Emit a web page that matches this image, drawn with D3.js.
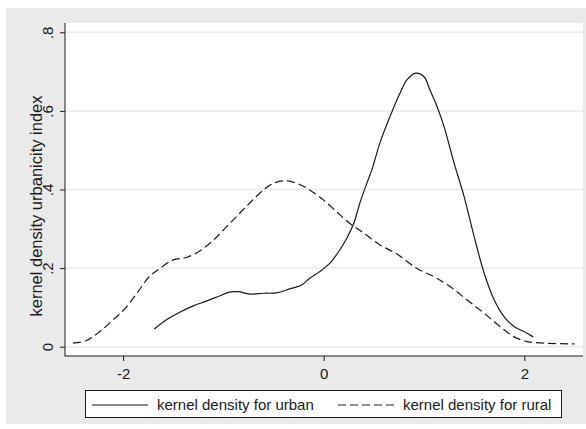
<!DOCTYPE html>
<html>
<head>
<meta charset="utf-8">
<script src="https://cdn.jsdelivr.net/npm/d3@7"></script>
<style>
  html, body { margin: 0; padding: 0; background: #ffffff; }
  svg { display: block; }
  text { font-family: "Liberation Sans", Arial, sans-serif; fill: #1a1a1a; }
</style>
</head>
<body>
<svg id="chart" width="586" height="429"></svg>
<script>
// Kernel density estimates of the urbanicity index, urban vs rural
const urbanX = [-1.69, -1.57, -1.44, -1.30, -1.17, -1.04, -0.94, -0.85, -0.74, -0.60, -0.47, -0.34, -0.22, -0.14, -0.04, 0.06, 0.16, 0.23, 0.30, 0.36, 0.43, 0.48, 0.56, 0.66, 0.76, 0.83, 0.92, 1.00, 1.06, 1.13, 1.20, 1.30, 1.40, 1.50, 1.60, 1.70, 1.80, 1.90, 2.00, 2.09];
const urbanY = [0.045, 0.068, 0.087, 0.104, 0.116, 0.129, 0.139, 0.140, 0.134, 0.136, 0.137, 0.147, 0.157, 0.174, 0.191, 0.212, 0.246, 0.276, 0.314, 0.365, 0.416, 0.450, 0.518, 0.585, 0.645, 0.679, 0.696, 0.687, 0.653, 0.611, 0.560, 0.467, 0.382, 0.280, 0.187, 0.119, 0.076, 0.051, 0.038, 0.025];

const ruralX = [-2.50, -2.37, -2.24, -2.10, -1.97, -1.84, -1.74, -1.64, -1.50, -1.37, -1.24, -1.10, -0.97, -0.84, -0.74, -0.60, -0.50, -0.39, -0.27, -0.14, 0.00, 0.13, 0.26, 0.40, 0.56, 0.73, 0.93, 1.10, 1.26, 1.43, 1.60, 1.76, 1.90, 2.03, 2.20, 2.50];
const ruralY = [0.009, 0.015, 0.037, 0.068, 0.100, 0.144, 0.178, 0.198, 0.221, 0.227, 0.243, 0.271, 0.305, 0.339, 0.365, 0.399, 0.416, 0.422, 0.416, 0.399, 0.373, 0.343, 0.314, 0.289, 0.259, 0.236, 0.199, 0.178, 0.153, 0.119, 0.085, 0.051, 0.025, 0.013, 0.009, 0.007];

const xTicks = [-2, 0, 2];
const xTickLabels = ["-2", "0", "2"];
const yTicks = [0, 0.2, 0.4, 0.6, 0.8];
const yTickLabels = ["0", ".2", ".4", ".6", ".8"];

const yTitle = "kernel density urbanicity index";
const seriesNames = ["kernel density for urban", "kernel density for rural"];

const svg = d3.select("#chart");
const W = 586;
const ink = "#1a1a1a";

// outer graph region
svg.append("rect").attr("x", 6).attr("y", 8).attr("width", W - 6).attr("height", 416)
  .attr("fill", "#eaeaea");

const plot = { left: 65, right: 583, top: 23, bottom: 356 };
svg.append("rect")
  .attr("x", plot.left).attr("y", plot.top)
  .attr("width", plot.right - plot.left).attr("height", plot.bottom - plot.top)
  .attr("fill", "#ffffff");

const x = d3.scaleLinear().domain([0, 2]).range([323.7, 524.3]);
const y = d3.scaleLinear().domain([0, 0.8]).range([346.7, 32.3]);

// horizontal grid lines
svg.append("g").selectAll("line").data(yTicks).join("line")
  .attr("x1", plot.left).attr("x2", plot.right)
  .attr("y1", d => y(d)).attr("y2", d => y(d))
  .attr("stroke", "#eaeaea").attr("stroke-width", 1.5);

// y axis
const yAxis = d3.axisLeft(y).tickValues(yTicks).tickFormat((d, i) => yTickLabels[i])
  .tickSize(5).tickSizeOuter(0);
const gy = svg.append("g").attr("transform", `translate(${plot.left},0)`).call(yAxis);
gy.select(".domain").remove();
gy.selectAll(".tick line").attr("stroke", ink);
gy.selectAll(".tick text")
  .attr("font-size", 15)
  .attr("text-anchor", "middle")
  .attr("x", null).attr("dy", null).attr("y", 0)
  .attr("transform", "translate(-12,0) rotate(-90)")
  .attr("fill", ink);
svg.append("line").attr("x1", plot.left).attr("x2", plot.left)
  .attr("y1", plot.top).attr("y2", plot.bottom + 0.5)
  .attr("stroke", ink).attr("stroke-width", 1);

// x axis
const xAxis = d3.axisBottom(x).tickValues(xTicks).tickFormat((d, i) => xTickLabels[i])
  .tickSize(5).tickSizeOuter(0);
const gx = svg.append("g").attr("transform", `translate(0,${plot.bottom})`).call(xAxis);
gx.select(".domain").remove();
gx.selectAll(".tick line").attr("stroke", ink);
gx.selectAll(".tick text").attr("font-size", 15).attr("fill", ink)
  .attr("y", 23).attr("dy", null);
svg.append("line").attr("x1", plot.left).attr("x2", plot.right)
  .attr("y1", plot.bottom).attr("y2", plot.bottom)
  .attr("stroke", ink).attr("stroke-width", 1);

// y axis title
svg.append("text")
  .attr("transform", "translate(42,206) rotate(-90)")
  .attr("text-anchor", "middle")
  .attr("font-size", 16.5)
  .text(yTitle);

// density curves
const line = d3.line().x(d => x(d[0])).y(d => y(d[1])).curve(d3.curveCatmullRom.alpha(0.5));
const urban = urbanX.map((v, i) => [v, urbanY[i]]);
const rural = ruralX.map((v, i) => [v, ruralY[i]]);

svg.append("path").datum(rural).attr("d", line)
  .attr("fill", "none").attr("stroke", ink).attr("stroke-width", 1.2)
  .attr("stroke-dasharray", "8,4");
svg.append("path").datum(urban).attr("d", line)
  .attr("fill", "none").attr("stroke", ink).attr("stroke-width", 1.2);

// legend
const lg = svg.append("g");
lg.append("rect").attr("x", 85.5).attr("y", 390.5).attr("width", 476).attr("height", 27)
  .attr("fill", "#ffffff").attr("stroke", ink).attr("stroke-width", 1);
const ly = 405;
lg.append("line").attr("x1", 92).attr("x2", 148).attr("y1", ly).attr("y2", ly)
  .attr("stroke", ink).attr("stroke-width", 1.2);
lg.append("text").attr("x", 157).attr("y", 410).attr("font-size", 15)
  .text(seriesNames[0]);
lg.append("line").attr("x1", 338).attr("x2", 397).attr("y1", ly).attr("y2", ly)
  .attr("stroke", ink).attr("stroke-width", 1.2).attr("stroke-dasharray", "8,4");
lg.append("text").attr("x", 403).attr("y", 410).attr("font-size", 15)
  .text(seriesNames[1]);
</script>
</body>
</html>
